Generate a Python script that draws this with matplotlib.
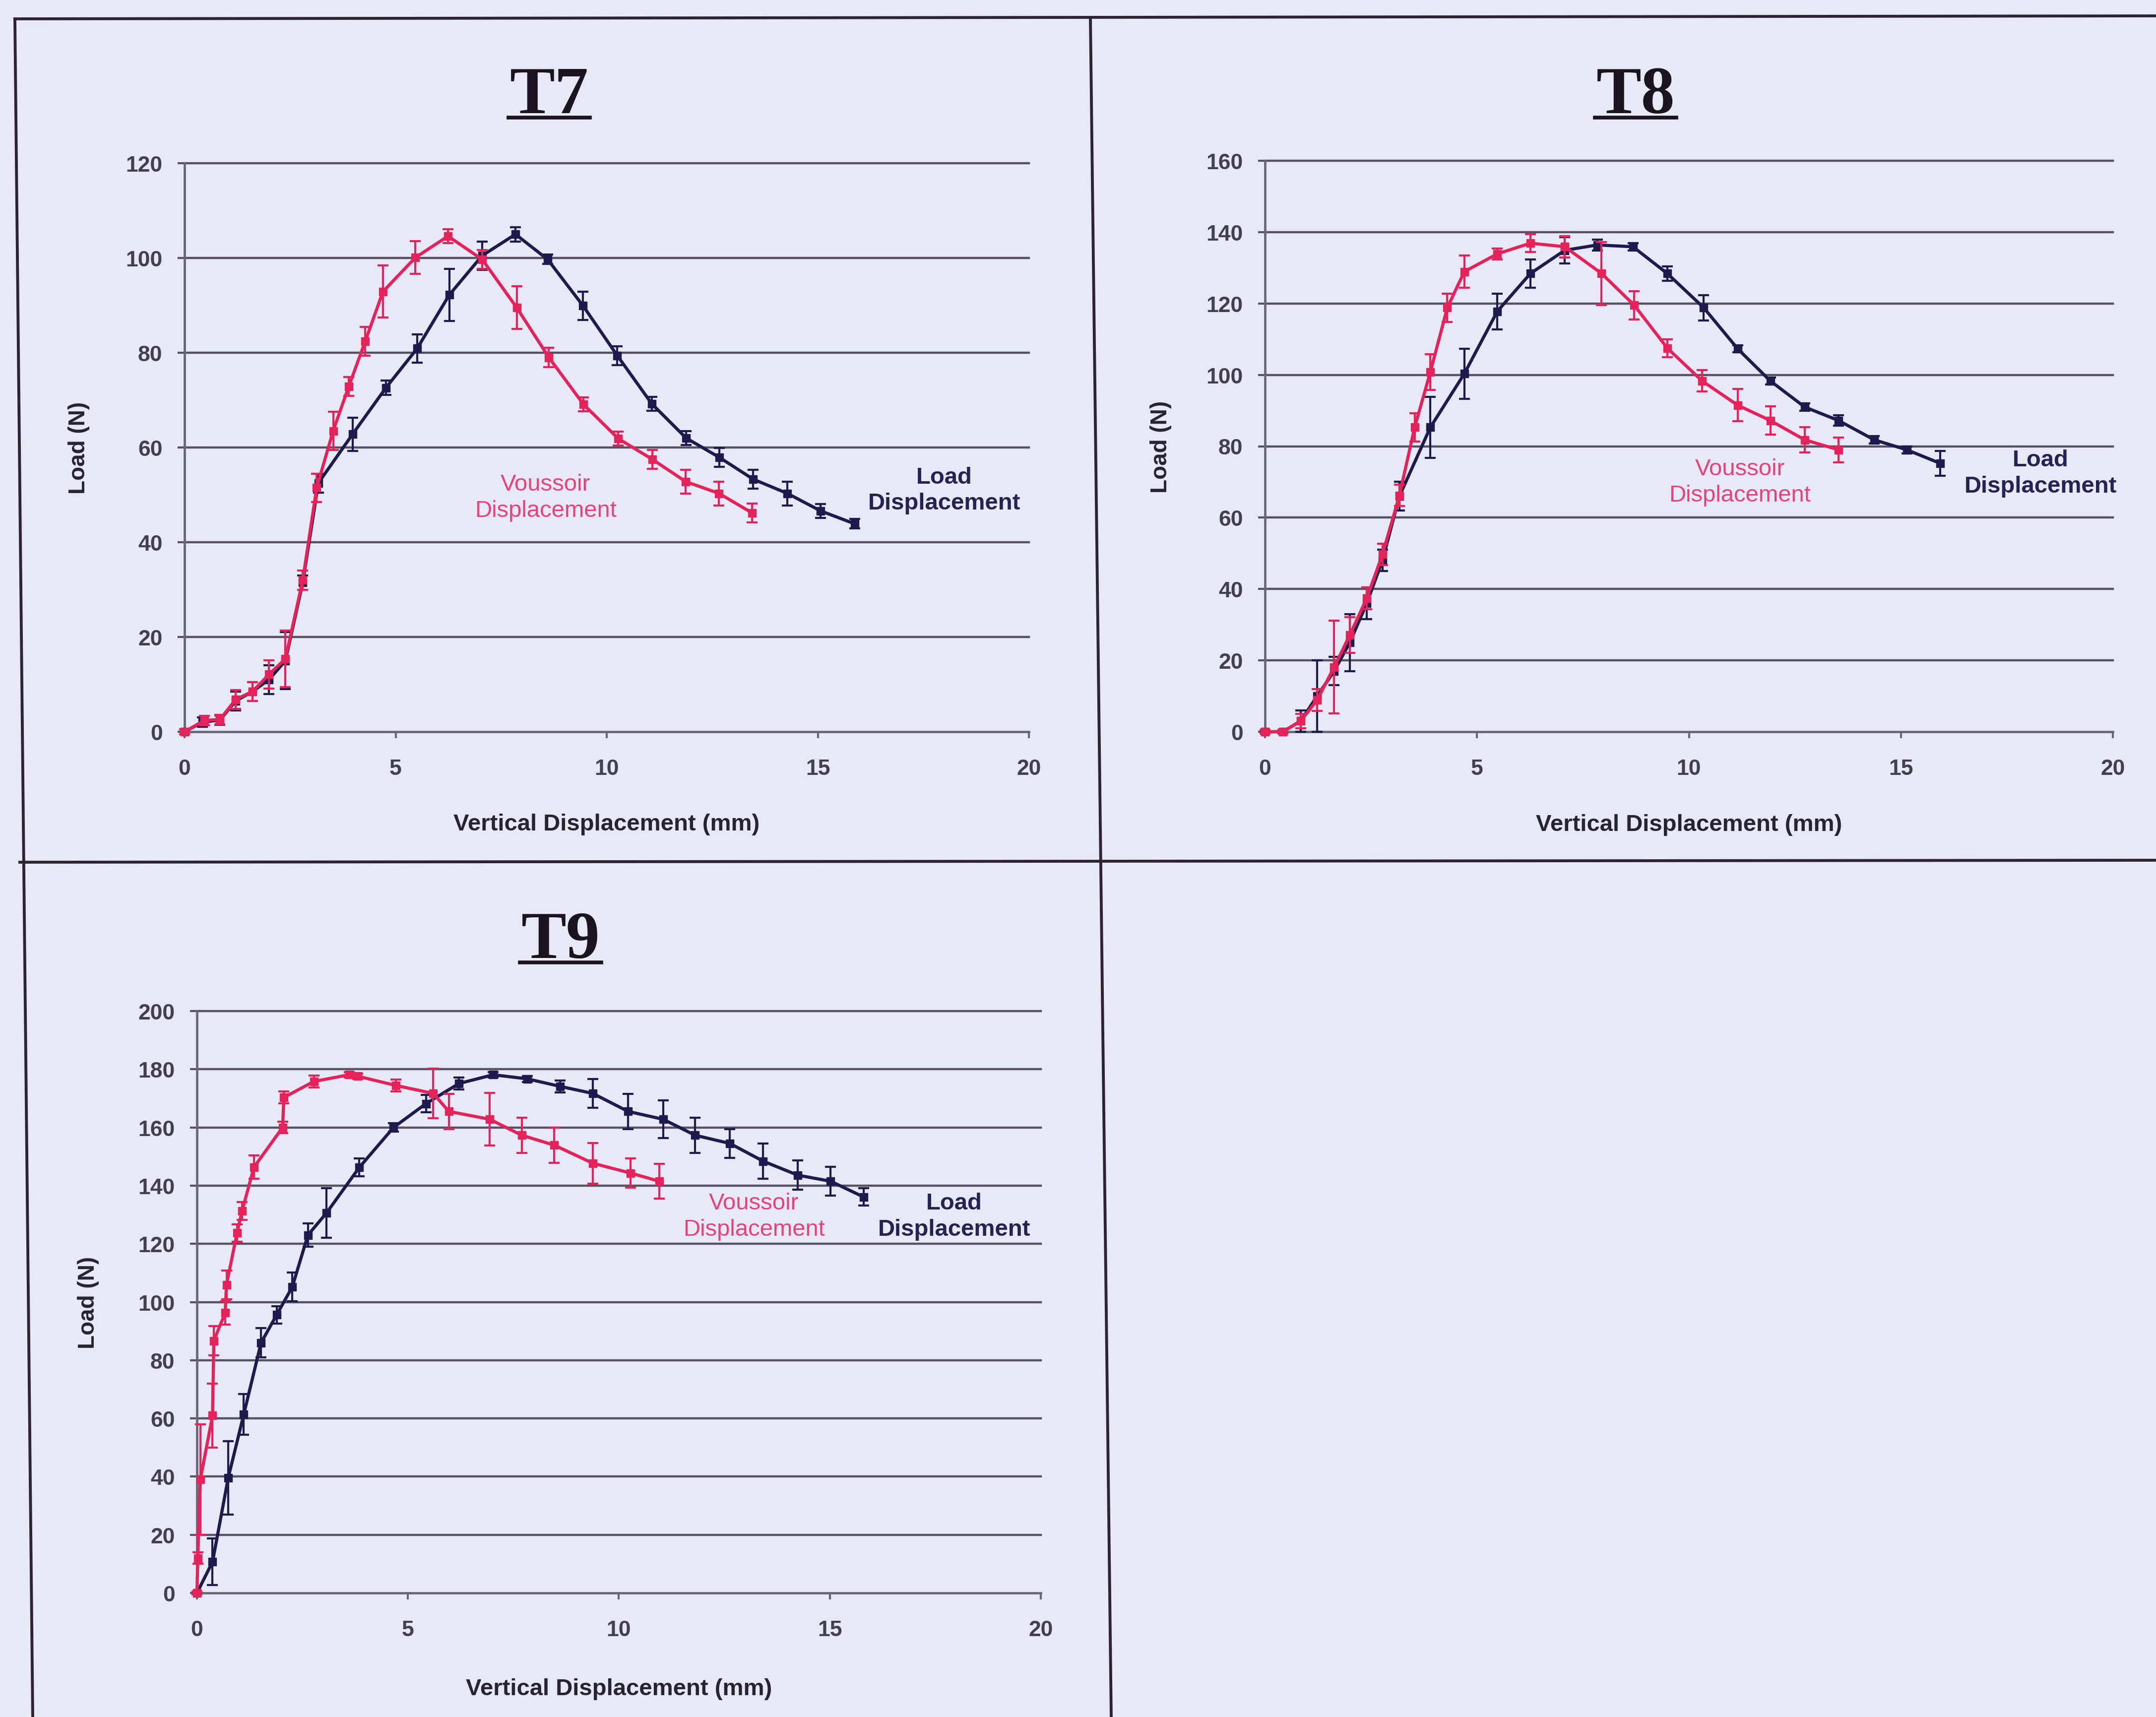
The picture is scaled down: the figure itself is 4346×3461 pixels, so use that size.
import matplotlib
matplotlib.use("Agg")
import matplotlib.pyplot as plt
from matplotlib.lines import Line2D

# ---- T7 ----
t7_load_x = [0, 0.42, 0.84, 1.21, 1.61, 2.0, 2.39, 2.8, 3.17, 3.98, 4.77, 5.51, 6.27,
             7.05, 7.84, 8.6, 9.44, 10.25, 11.07, 11.88, 12.67, 13.47, 14.28, 15.07, 15.87]
t7_load_y = [0, 2, 2.5, 6.5, 8.5, 11, 15, 31.5, 52.5, 62.8, 72.6, 80.9, 92.2,
             100.5, 105, 99.7, 89.9, 79.4, 69.2, 62, 57.9, 53.3, 50.3, 46.6, 43.9]
t7_load_err = [0.5, 1, 1, 2, 2, 3, 6, 1.5, 2, 3.5, 1.5, 3, 5.5,
               3, 1.5, 1, 3, 2, 1.5, 1.5, 2, 2, 2.5, 1.5, 1]
t7_vous_x = [0, 0.47, 0.84, 1.21, 1.61, 2.0, 2.39, 2.8, 3.13, 3.52, 3.89, 4.28, 4.70,
             5.47, 6.24, 7.05, 7.87, 8.63, 9.45, 10.27, 11.08, 11.87, 12.66, 13.44]
t7_vous_y = [0, 2.4, 2.6, 6.8, 8.5, 12.1, 15.4, 32, 51.5, 63.5, 72.9, 82.4, 92.9,
             100.1, 104.6, 99.7, 89.5, 79, 69.1, 61.9, 57.5, 52.8, 50.3, 46.2]
t7_vous_err = [0.5, 1, 1, 2, 2, 3, 6, 2, 3, 4, 2, 3, 5.5,
               3.5, 1.5, 2, 4.5, 2, 1.5, 1.5, 2, 2.5, 2.5, 2]

# ---- T8 ----
t8_load_x = [0, 0.42, 0.84, 1.23, 1.63, 2.0, 2.40, 2.77, 3.17, 3.90, 4.70, 5.48, 6.26,
             7.07, 7.84, 8.68, 9.49, 10.35, 11.15, 11.92, 12.73, 13.53, 14.37, 15.14, 15.93]
t8_load_y = [0, 0, 3, 10, 17, 25, 36, 48, 66, 85.3, 100.3, 117.8, 128.4,
             134.9, 136.4, 135.9, 128.4, 118.8, 107.3, 98.3, 91.0, 87.2, 81.8, 79.0, 75.2]
t8_load_err = [0.5, 0.5, 3, 10, 4, 8, 4.5, 3, 4, 8.5, 7, 5, 4,
               3.7, 1.5, 1, 2, 3.5, 1, 1, 1, 1.5, 1, 1, 3.5]
t8_vous_x = [0, 0.42, 0.84, 1.23, 1.63, 2.0, 2.40, 2.77, 3.17, 3.53, 3.90, 4.30, 4.70,
             5.48, 6.26, 7.07, 7.94, 8.71, 9.49, 10.31, 11.15, 11.92, 12.73, 13.53]
t8_vous_y = [0, 0, 3, 8.9, 18.1, 27.1, 37.4, 49.7, 66.2, 85.3, 100.8, 118.8, 128.9,
             133.9, 136.9, 135.9, 128.4, 119.5, 107.5, 98.3, 91.5, 87.2, 81.8, 79.0]
t8_vous_err = [0.5, 0.5, 2, 3, 13, 5, 3, 3, 3, 4, 5, 4, 4.5,
               1.5, 2.5, 3, 8.8, 4, 2.5, 3, 4.5, 4, 3.5, 3.5]

# ---- T9 ----
t9_load_x = [0, 0.37, 0.74, 1.11, 1.52, 1.89, 2.26, 2.63, 3.07, 3.85, 4.66, 5.43, 6.21,
             7.02, 7.83, 8.61, 9.38, 10.22, 11.05, 11.81, 12.63, 13.42, 14.24, 15.02, 15.80]
t9_load_y = [0, 10.7, 39.5, 61.4, 86, 95.6, 105.2, 123, 130.6, 146.3, 160, 168.2, 175.1,
             178.1, 176.7, 174.1, 171.7, 165.5, 162.8, 157.3, 154.5, 148.4, 143.6, 141.5, 136.1]
t9_load_err = [0.5, 8, 12.6, 7, 5, 3, 5, 4, 8.5, 3, 1.5, 3, 2,
               1, 1, 2, 5, 6, 6.5, 6, 5, 6, 5, 5, 3]
t9_vous_x = [0, 0.02, 0.08, 0.37, 0.40, 0.67, 0.70, 0.95, 1.07, 1.35, 2.03, 2.06, 2.77,
             3.61, 3.81, 4.72, 5.60, 5.97, 6.94, 7.70, 8.47, 9.38, 10.28, 10.96]
t9_vous_y = [0, 12, 39, 61, 86.7, 96.3, 105.9, 123.7, 131.3, 146.3, 160, 170.3, 175.8,
             178.1, 177.6, 174.4, 171.7, 165.5, 162.8, 157.3, 153.9, 147.7, 144.3, 141.5]
t9_vous_err = [0.5, 2, 19, 11, 5, 4, 5, 3, 3, 4, 2, 2, 2,
               1, 1, 2, 8.5, 6, 9, 6, 6, 7, 5, 6]

x_ticks = [0, 5, 10, 15, 20]
x_label = "Vertical Displacement (mm)"
y_label = "Load (N)"
vous_label = "Voussoir\nDisplacement"
load_label = "Load\nDisplacement"

W, H = 4346, 3462
DPI = 100
PAGE = "#e8e9f7"
GRID = "#575262"
AXIS = "#686678"
TICKTXT = "#42404f"
RED = "#e3235a"
RED_TXT = "#e8407e"
NAVY = "#1d1b4d"
NAVY_TXT = "#262254"
RULE = "#2c2434"

plt.rcParams["font.family"] = ["Liberation Sans", "DejaVu Sans"]

fig = plt.figure(figsize=(W / DPI, H / DPI), dpi=DPI)
fig.patch.set_facecolor(PAGE)


def px_rect(x0, x1, ytop, ybot):
    return [x0 / W, 1 - ybot / H, (x1 - x0) / W, (ybot - ytop) / H]


def series(ax, xs, ys, err, color, z):
    ax.errorbar(xs, ys, yerr=err, color=color, lw=4.6, marker="s", ms=11,
                mec=color, mfc=color, elinewidth=3.0, capsize=8, capthick=3.0,
                zorder=z, clip_on=False)


def panel(rect, ymax, ystep, load, vous, vous_xy, load_xy, ylab_x, xlab_y):
    ax = fig.add_axes(rect)
    ax.set_facecolor("none")
    ax.set_xlim(0, 20)
    ax.set_ylim(0, ymax)
    yt = list(range(0, ymax + 1, ystep))
    ax.set_yticks(yt)
    ax.set_xticks(x_ticks)
    for v in yt[1:]:
        ax.axhline(v, color=GRID, lw=3.2, zorder=1, clip_on=False)
    for s in ("top", "right"):
        ax.spines[s].set_visible(False)
    for s in ("left", "bottom"):
        ax.spines[s].set_color(AXIS)
        ax.spines[s].set_linewidth(3.4)
    ax.tick_params(axis="y", direction="out", length=10, width=3, color=GRID,
                   labelsize=32, labelcolor=TICKTXT, pad=22)
    ax.tick_params(axis="x", direction="out", length=9, width=3, color=AXIS,
                   labelsize=32, labelcolor=TICKTXT, pad=30)
    for lab in ax.get_xticklabels() + ax.get_yticklabels():
        lab.set_fontweight("bold")
    ax.set_xlabel(x_label, fontsize=34, fontweight="bold", color="#262433")
    ax.set_ylabel(y_label, fontsize=33, fontweight="bold", color="#262433")
    ax.xaxis.set_label_coords(0.5, xlab_y)
    ax.yaxis.set_label_coords(ylab_x, 0.5)
    series(ax, *load, NAVY, 3)
    series(ax, *vous, RED, 4)
    ax.text(*vous_xy, vous_label, color=RED_TXT, fontsize=34, ha="center",
            va="center", linespacing=1.25, zorder=5)
    ax.text(*load_xy, load_label, color=NAVY_TXT, fontsize=34, fontweight="bold",
            ha="center", va="center", linespacing=1.25, zorder=5, clip_on=False)
    return ax


panel(px_rect(372, 2074, 330, 1476), 120, 20,
      (t7_load_x, t7_load_y, t7_load_err), (t7_vous_x, t7_vous_y, t7_vous_err),
      (8.55, 49.5), (18.0, 51.0), -0.112, -0.143)
panel(px_rect(2550, 4259, 325, 1476), 160, 20,
      (t8_load_x, t8_load_y, t8_load_err), (t8_vous_x, t8_vous_y, t8_vous_err),
      (11.2, 70.0), (18.3, 72.5), -0.110, -0.143)
panel(px_rect(397, 2098, 2039, 3212), 200, 20,
      (t9_load_x, t9_load_y, t9_load_err), (t9_vous_x, t9_vous_y, t9_vous_err),
      (13.2, 129.5), (17.95, 129.5), -0.116, -0.146)

# Panel titles, bold serif with an underline
renderer = fig.canvas.get_renderer()
for name, cx, base in (("T7", 1107, 228), ("T8", 3297, 228), ("T9", 1130, 1931)):
    t = fig.text(cx / W, 1 - base / H, name, fontsize=98, fontweight="bold",
                 family=["Liberation Serif", "DejaVu Serif"], color="#1a1420",
                 ha="center", va="baseline")
    bb = t.get_window_extent(renderer)
    uy = 1 - (base + 10) / H
    fig.add_artist(Line2D([bb.x0 / W - 0.0006, bb.x1 / W + 0.0006], [uy, uy],
                          transform=fig.transFigure, color="#1a1420", lw=5.5))

# Table rules framing the panels
rules = [((30, 39), (4346, 33)),
         ((30, 39), (66, 3462)),
         ((2198, 39), (2240, 3462)),
         ((40, 1739), (4346, 1735))]
for (xa, ya), (xb, yb) in rules:
    fig.add_artist(Line2D([xa / W, xb / W], [1 - ya / H, 1 - yb / H],
                          transform=fig.transFigure, color=RULE, lw=4.2))

fig.savefig("out.png", dpi=DPI, facecolor=fig.get_facecolor())
